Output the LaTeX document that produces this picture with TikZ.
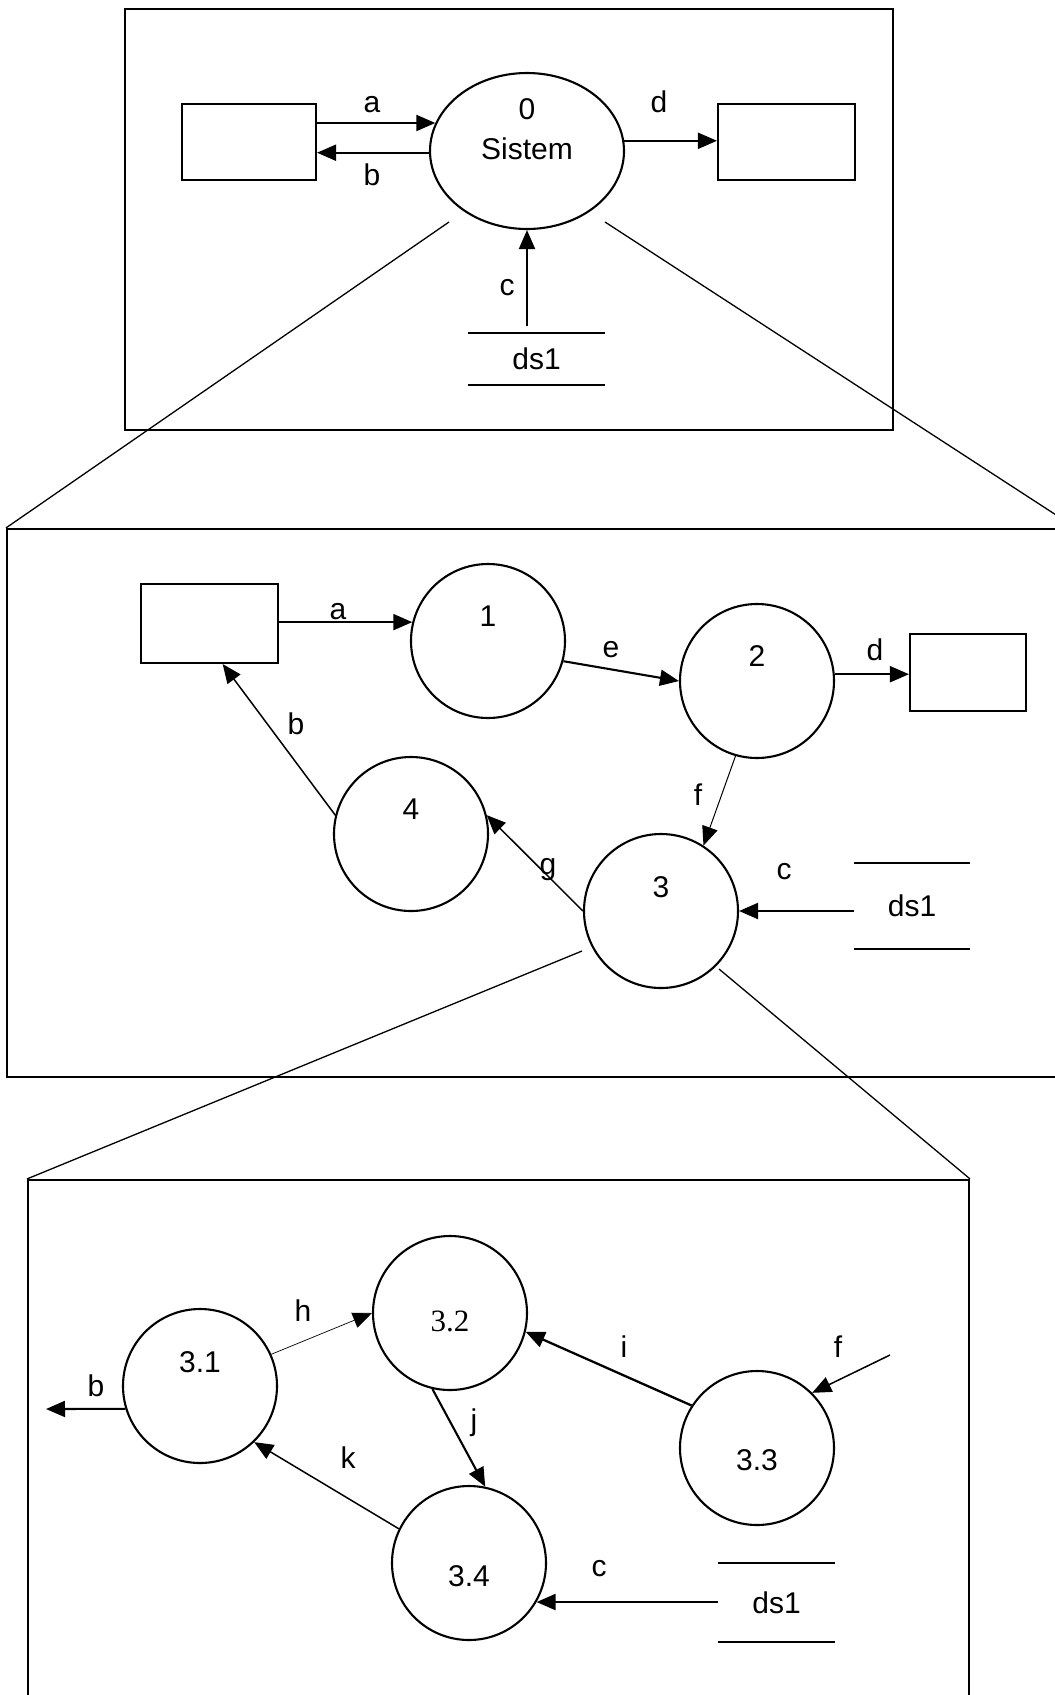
\documentclass[tikz,border=0pt]{standalone}
\usepackage{fontspec}
\setmainfont{Liberation Sans}
\newfontfamily\serifnum{Liberation Serif}
\usetikzlibrary{arrows.meta, shapes.geometric}

\begin{document}
\begin{tikzpicture}[x=1pt,y=-1pt,line width=2.1pt,
	font=\fontsize{30}{36}\selectfont,
	proc/.style={shape=circle,draw=black,minimum size=154pt,inner sep=0pt},
	ent/.style={shape=rectangle,draw=black,inner sep=0pt},
	frm/.style={shape=rectangle,draw=black,inner sep=0pt},
	store/.style={shape=rectangle,inner sep=0pt},
	flow/.style={-{Triangle[length=19pt,width=16pt]}},
	zoomline/.style={line width=1.3pt}]
		\useasboundingbox (0,0) rectangle (1055,1695);
		\clip (0,0) rectangle (1055,1695);

		\node[frm,minimum width=768pt,minimum height=421pt] (F0) at (509,219.5){};
		\node[ent,minimum width=134pt,minimum height=76pt] (E1) at (249,142){};
		\node[ent,minimum width=137pt,minimum height=76pt] (E2) at (786.5,142){};
		\node[shape=ellipse,draw=black,minimum width=194pt,minimum height=156pt,inner sep=0pt,
			label={[yshift=21.5pt,align=center,font=\fontsize{30}{40}\selectfont]center:{0\\Sistem}}] (P0) at (527,151){};
		\node[store,minimum width=135pt,minimum height=50pt] (S0) at (536.5,359){ds1};
		\draw (S0.north west) -- (S0.north east);
		\draw (S0.south west) -- (S0.south east);

		\path [flow] (E1.east |- P0.163) edge (P0.163);
		\path [flow] (P0.181) edge (E1.east |- P0.181);
		\path [flow] (P0.6) edge (E2.west |- P0.6);
		\path [flow, shorten <=7pt] (P0.south |- S0.north) edge (P0.south);
		\node (ta) at (372,105){a};
		\node (tb) at (372,175){b};
		\node (td) at (659,102){d};
		\node (tc) at (507,288){c};

		\node[frm,minimum width=1068pt,minimum height=548pt] (F1) at (541,803){};
		\coordinate (z0a) at (449,222);
		\coordinate (z0b) at (605,222);
		\draw[zoomline] (z0a) -- (F1.north west);
		\draw[zoomline] (z0b) -- (F1.north east);

		\node[ent,minimum width=137pt,minimum height=79pt] (E3) at (209.5,623.5){};
		\node[ent,minimum width=116pt,minimum height=77pt] (E4) at (968,672.5){};
		\node[proc,label={[yshift=25pt]center:1}] (C1) at (488,641){};
		\node[proc,label={[yshift=25pt]center:2}] (C2) at (757,681){};
		\node[proc,label={[yshift=24pt]center:3}] (C3) at (661,911){};
		\node[proc,label={[yshift=25pt]center:4}] (C4) at (411,834){};
		\node[store,minimum width=114pt,minimum height=84pt] (S1) at (912,906){ds1};
		\draw (S1.north west) -- (S1.north east);
		\draw (S1.south west) -- (S1.south east);

		\path [flow] (E3.east |- C1.166) edge (C1.166);
		\path [flow] (C1.-15) edge (C2.180);
		\path [flow] (C2.5) edge (E4.west |- C2.5);
		\path [flow, line width=1pt] (C2.-106) edge (C3.57);
		\path [flow, line width=1.5pt] (C4.166) edge (E3.-72);
		\path [flow, line width=1.5pt] (C3.180) edge (C4.14);
		\path [flow] (S1.west |- C3.east) edge (C3.east);
		\node (ma) at (338,612){a};
		\node (me) at (611,650){e};
		\node (md) at (875,650){d};
		\node (mf) at (698,795){f};
		\node (mb) at (296,724){b};
		\node (mg) at (548,870){g};
		\node (mc) at (784,872){c};

		\node[frm,minimum width=941pt,minimum height=620pt] (F2) at (498.5,1490){};
		\coordinate (z1a) at (582,951);
		\coordinate (z1b) at (719,969);
		\draw[zoomline] (z1a) -- (F2.north west);
		\draw[zoomline] (z1b) -- (F2.north east);

		\node[proc,label={[yshift=24pt]center:3.1}] (C31) at (200,1386){};
		\node[proc,label={[yshift=-8pt,font=\serifnum\fontsize{31}{36}\selectfont]center:3.2}] (C32) at (450,1313){};
		\node[proc,label={[yshift=-12pt]center:3.3}] (C33) at (757,1448){};
		\node[proc,label={[yshift=-13pt]center:3.4}] (C34) at (469,1563){};
		\node[store,minimum width=115pt,minimum height=77pt] (S3) at (776.5,1602.5){ds1};
		\draw (S3.north west) -- (S3.north east);
		\draw (S3.south west) -- (S3.south east);
		\coordinate (ob) at (46,1409);
		\coordinate (fin) at (890,1355);

		\path [flow] (C31.197) edge (ob);
		\path [flow, line width=0.7pt] (C31.24) edge (C32.180);
		\path [flow, line width=2.3pt] (C33.147) edge (C32.-14);
		\path [flow, line width=1.5pt] (fin) edge (C33.45);
		\path [flow] (C32.-103) edge (C34.78);
		\path [flow, line width=1.5pt] (C34.154) edge (C31.-46);
		\path [flow] (S3.west |- C34.-30) edge (C34.-30);
		\node (bb) at (96,1386){b};
		\node (bh) at (303,1311){h};
		\node (bi) at (624,1347){i};
		\node (bf) at (838,1347){f};
		\node (bj) at (474,1423){j};
		\node (bk) at (348,1458){k};
		\node (bc) at (599,1569){c};
		\end{tikzpicture}
\end{document}
